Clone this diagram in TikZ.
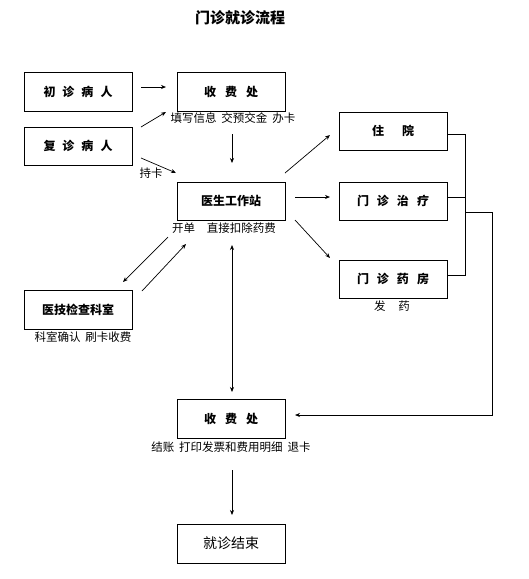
\documentclass[tikz,border=0pt]{standalone}
\usepackage{fontspec}
\setmainfont{Noto Sans CJK SC}
\newfontfamily\cjk{Noto Sans CJK SC}
\usetikzlibrary{arrows.meta}
\begin{document}
\begin{tikzpicture}[x=1pt,y=-1pt,
  box/.style={draw,line width=0.8pt,minimum width=108pt,minimum height=39pt,inner sep=0pt,font=\fontsize{12}{12}\selectfont\bfseries},
  lbl/.style={inner sep=0pt,font=\fontsize{11.5}{12}\selectfont},
  arr/.style={line width=0.7pt,-{Stealth[length=5pt,width=4pt]}},
  ln/.style={line width=0.7pt}]
\useasboundingbox (0,0) rectangle (529,579);
\fill[white] (0,0) rectangle (529,579);
\node[inner sep=0pt,font=\fontsize{15}{15}\selectfont\bfseries] (title) at (240,18) {门诊就诊流程};
% boxes
\node[box] (chu) at (78,91.5) {初\hspace{7pt}诊\hspace{7pt}病\hspace{7pt}人};
\node[box,minimum height=38pt] (fu) at (78,146) {复\hspace{7pt}诊\hspace{7pt}病\hspace{7pt}人};
\node[box] (sf1) at (231,91.5) {收\hspace{9pt}费\hspace{9pt}处};
\node[box,minimum height=38pt] (ys) at (231,201) {医生工作站};
\node[box,minimum height=38pt] (zy) at (393,131) {住\hspace{18pt}院};
\node[box,minimum height=38pt] (zl) at (393,201) {门\hspace{8pt}诊\hspace{8pt}治\hspace{8pt}疗};
\node[box,minimum height=38pt] (yf) at (393,279) {门\hspace{8pt}诊\hspace{8pt}药\hspace{8pt}房};
\node[box] (yj) at (78,309.5) {医技检查科室};
\node[box] (sf2) at (231,418.5) {收\hspace{9pt}费\hspace{9pt}处};
\node[box,font=\fontsize{14}{14}\selectfont] (end) at (231,543.5) {就诊结束};
% labels
\node[lbl] (l1) at (233,118) {填写信息\hspace{5pt}交预交金\hspace{5pt}办卡};
\node[lbl] (l2) at (151,173) {持卡};
\node[lbl] (l3) at (224,228) {开单\hspace{12pt}直接扣除药费};
\node[lbl] (l4) at (392,306) {发\hspace{13pt}药};
\node[lbl] (l5) at (83,337) {科室确认\hspace{5pt}刷卡收费};
\node[lbl] (l6) at (231,447) {结账\hspace{5pt}打印发票和费用明细\hspace{5pt}退卡};
% coordinates for arrow ends
\coordinate (a1s) at (141,87); \coordinate (a1e) at (166,87);
\coordinate (a2s) at (141,127); \coordinate (a2e) at (166,112);
\coordinate (a3s) at (232,134); \coordinate (a3e) at (232,163);
\coordinate (a4s) at (141,158); \coordinate (a4e) at (176,173);
\coordinate (b1s) at (285,173); \coordinate (b1e) at (330,135);
\coordinate (b2s) at (295,197); \coordinate (b2e) at (330,197);
\coordinate (b3s) at (295,220); \coordinate (b3e) at (330,258);
\coordinate (c1s) at (168,237); \coordinate (c1e) at (123,282);
\coordinate (c2s) at (142,291); \coordinate (c2e) at (186,244);
\coordinate (d1s) at (232,245); \coordinate (d1e) at (232,392);
\coordinate (e1s) at (232,470); \coordinate (e1e) at (232,515);
\coordinate (j) at (465,212); \coordinate (r) at (295,415);
% arrows
\draw[arr] (a1s) -- (a1e);
\draw[arr] (a2s) -- (a2e);
\draw[arr] (a3s) -- (a3e);
\draw[arr] (a4s) -- (a4e);
\draw[arr] (b1s) -- (b1e);
\draw[arr] (b2s) -- (b2e);
\draw[arr] (b3s) -- (b3e);
\draw[arr] (c1s) -- (c1e);
\draw[arr] (c2s) -- (c2e);
\draw[arr,{Stealth[length=5pt,width=4pt]}-{Stealth[length=5pt,width=4pt]}] (d1s) -- (d1e);
\draw[arr] (e1s) -- (e1e);
% right bus
\draw[ln] (zy.east) ++(0,3) -- (465,134) -- (465,275) -- (447,275);
\draw[ln] (zl.east) ++(0,-4) -- (465,197);
\draw[arr] (j) -- (492,212) -- (492,415) -- (r);
\end{tikzpicture}
\end{document}
